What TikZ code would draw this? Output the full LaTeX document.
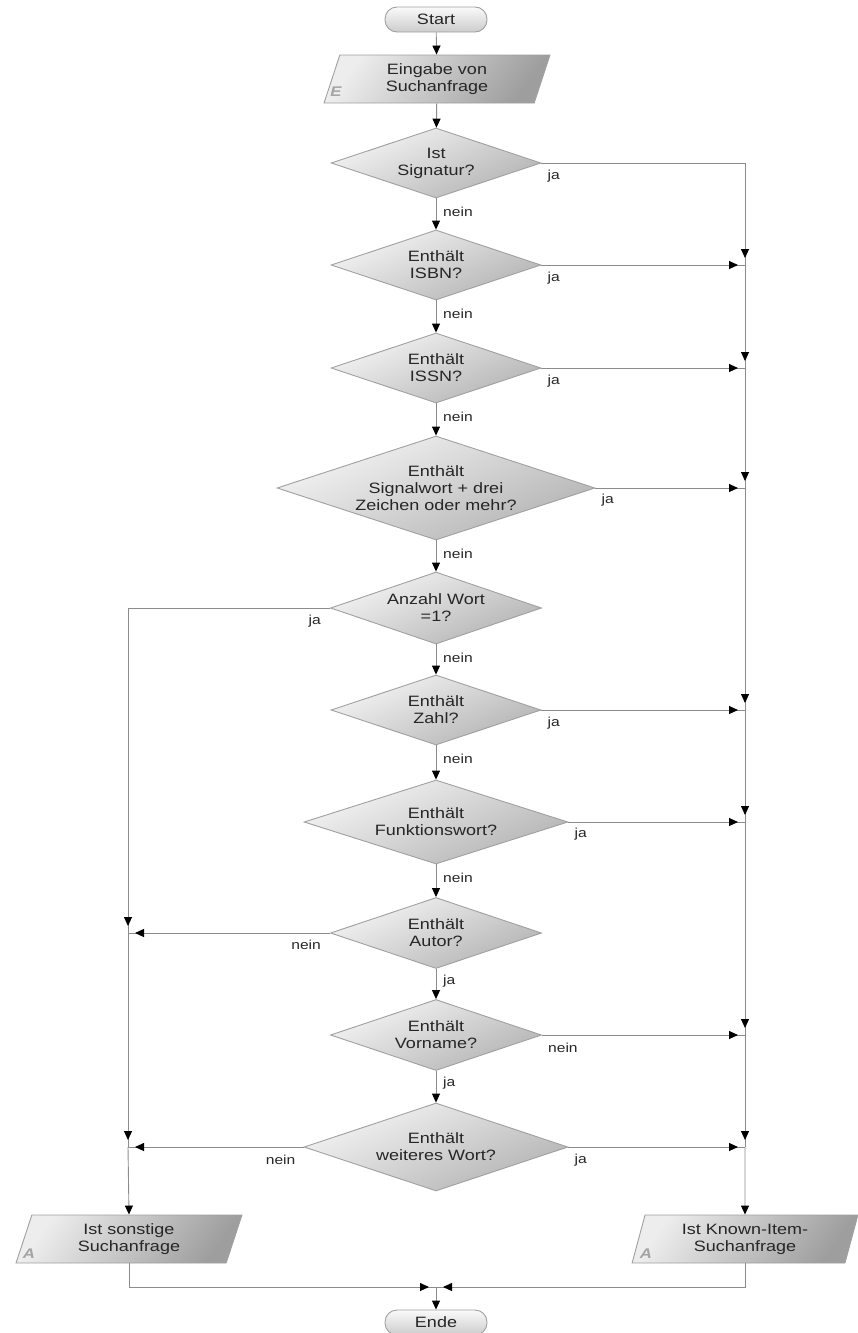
\documentclass[tikz,border=0pt]{standalone}
\usepackage{fontspec}
\setmainfont{Liberation Sans}[FakeStretch=1.2]
\usetikzlibrary{shapes.geometric,arrows.meta,decorations.markings}

\definecolor{edgegray}{HTML}{A0A0A0}
\definecolor{linegray}{HTML}{8C8C8C}
\definecolor{txtgray}{HTML}{262626}
\definecolor{letgray}{HTML}{A4A4A4}

\tikzset{
  shadebox/.style={draw=edgegray, line width=0.9pt, top color=black!4, bottom color=black!30, shading angle=25},
  dia/.style={shadebox, shape=diamond, inner sep=0pt},
  para/.style={shadebox, top color=black!7, bottom color=black!38, shading angle=55, shape=trapezium, trapezium left angle=75, trapezium right angle=105, trapezium stretches=true, minimum width=226pt, minimum height=48pt, inner sep=0pt, align=center, font=\fontsize{15}{17}\selectfont, text=txtgray},
  term/.style={shadebox, top color=black!2, bottom color=black!20, rounded corners=12pt, minimum width=102pt, minimum height=25pt, inner sep=0pt, font=\fontsize{15}{17}\selectfont, text=txtgray},
  txt/.style={font=\fontsize{15}{17}\selectfont, text=txtgray, align=center, inner sep=0pt},
  lab/.style={font=\fontsize{13}{15}\selectfont, text=txtgray, inner sep=0pt},
  letter/.style={font=\fontsize{14}{14}\selectfont\bfseries\itshape, text=letgray, inner sep=0pt},
  flow/.style={draw=linegray, line width=0.9pt},
  arr/.style={flow, -{Triangle[length=9pt,width=8pt,color=black]}},
  tipnear/.style={flow, postaction=decorate, decoration={markings, mark=at position -7pt with {\arrow{Triangle[length=9pt,width=8pt,color=black]}}}}
}

\begin{document}
\begin{tikzpicture}[x=1pt,y=-1pt]
\useasboundingbox (0,0) rectangle (858,1333);

\coordinate (rx) at (745,0);
\coordinate (lx) at (128,0);

% nodes
\node[term] (start) at (436,19.5) {Start};
\node[para] (eing) at (437,79) {Eingabe von\\Suchanfrage};

\node[dia, minimum width=210pt, minimum height=70pt] (d1) at (436,163) {};
\node[txt] (t1) at (d1) {Ist\\Signatur?};
\node[dia, minimum width=210pt, minimum height=70pt] (d2) at (436,265) {};
\node[txt] (t2) at (d2) {Enthält\\ISBN?};
\node[dia, minimum width=210pt, minimum height=70pt] (d3) at (436,368) {};
\node[txt] (t3) at (d3) {Enthält\\ISSN?};
\node[dia, minimum width=318pt, minimum height=104pt] (d4) at (436,488) {};
\node[txt] (t4) at (d4) {Enthält\\Signalwort + drei\\Zeichen oder mehr?};
\node[dia, minimum width=211pt, minimum height=72pt] (d5) at (436,608) {};
\node[txt] (t5) at (d5) {Anzahl Wort\\=1?};
\node[dia, minimum width=210pt, minimum height=70pt] (d6) at (436,710) {};
\node[txt] (t6) at (d6) {Enthält\\Zahl?};
\node[dia, minimum width=264pt, minimum height=84pt] (d7) at (436,822) {};
\node[txt] (t7) at (d7) {Enthält\\Funktionswort?};
\node[dia, minimum width=211pt, minimum height=71pt] (d8) at (436,933) {};
\node[txt] (t8) at (d8) {Enthält\\Autor?};
\node[dia, minimum width=211pt, minimum height=71pt] (d9) at (436,1035) {};
\node[txt] (t9) at (d9) {Enthält\\Vorname?};
\node[dia, minimum width=264pt, minimum height=88pt] (d10) at (436,1147) {};
\node[txt] (t10) at (d10) {Enthält\\weiteres Wort?};

\node[para] (other) at (129,1239) {Ist sonstige\\Suchanfrage};
\node[para] (known) at (745,1239) {Ist Known-Item-\\Suchanfrage};

\node[letter] (eL) at (336,92) {E};
\node[letter] (aL1) at (29,1254) {A};
\node[letter] (aL2) at (646,1254) {A};

\node[term] (ende) at (436,1322.5) {Ende};
\coordinate (join) at (436,1287);

% main chain
\draw[arr] (start) -- (eing);
\draw[arr] (eing) -- (d1);
\draw[arr] (d1) -- (d2);
\draw[arr] (d2) -- (d3);
\draw[arr] (d3) -- (d4);
\draw[arr] (d4) -- (d5);
\draw[arr] (d5) -- (d6);
\draw[arr] (d6) -- (d7);
\draw[arr] (d7) -- (d8);
\draw[arr] (d8) -- (d9);
\draw[arr] (d9) -- (d10);

\node[lab, anchor=west] (n1) at ([shift={(7,13)}]d1.south) {nein};
\node[lab, anchor=west] (n2) at ([shift={(7,13)}]d2.south) {nein};
\node[lab, anchor=west] (n3) at ([shift={(7,13)}]d3.south) {nein};
\node[lab, anchor=west] (n4) at ([shift={(7,13)}]d4.south) {nein};
\node[lab, anchor=west] (n5) at ([shift={(7,13)}]d5.south) {nein};
\node[lab, anchor=west] (n6) at ([shift={(7,13)}]d6.south) {nein};
\node[lab, anchor=west] (n7) at ([shift={(7,13)}]d7.south) {nein};
\node[lab, anchor=west] (j8) at ([shift={(7,12)}]d8.south) {ja};
\node[lab, anchor=west] (j9) at ([shift={(7,12)}]d9.south) {ja};

% right column
\draw[tipnear] (d1.east) -- (d1.east -| rx) -- (d2.east -| rx);
\draw[tipnear] (d2.east) -- (d2.east -| rx);
\draw[tipnear] (d2.east -| rx) -- (d3.east -| rx);
\draw[tipnear] (d3.east) -- (d3.east -| rx);
\draw[tipnear] (d3.east -| rx) -- (d4.east -| rx);
\draw[tipnear] (d4.east) -- (d4.east -| rx);
\draw[tipnear] (d4.east -| rx) -- (d6.east -| rx);
\draw[tipnear] (d6.east) -- (d6.east -| rx);
\draw[tipnear] (d6.east -| rx) -- (d7.east -| rx);
\draw[tipnear] (d7.east) -- (d7.east -| rx);
\draw[tipnear] (d7.east -| rx) -- (d9.east -| rx);
\draw[tipnear] (d9.east) -- (d9.east -| rx);
\draw[tipnear] (d9.east -| rx) -- (d10.east -| rx);
\draw[tipnear] (d10.east) -- (d10.east -| rx);
\draw[arr] (d10.east -| rx) -- (known.north);

\node[lab, anchor=west] (r1) at ([shift={(6,13)}]d1.east) {ja};
\node[lab, anchor=west] (r2) at ([shift={(6,13)}]d2.east) {ja};
\node[lab, anchor=west] (r3) at ([shift={(6,13)}]d3.east) {ja};
\node[lab, anchor=west] (r4) at ([shift={(6,12)}]d4.east) {ja};
\node[lab, anchor=west] (r6) at ([shift={(6,13)}]d6.east) {ja};
\node[lab, anchor=west] (r7) at ([shift={(6,12)}]d7.east) {ja};
\node[lab, anchor=west] (r9) at ([shift={(6,13)}]d9.east) {nein};
\node[lab, anchor=west] (r10) at ([shift={(6,13)}]d10.east) {ja};

% left column
\draw[tipnear] (d5.west) -- (d5.west -| lx) -- (d8.west -| lx);
\draw[tipnear] (d8.west) -- (d8.west -| lx);
\draw[tipnear] (d8.west -| lx) -- (d10.west -| lx);
\draw[tipnear] (d10.west) -- (d10.west -| lx);
\draw[arr] (d10.west -| lx) -- (other.north);

\node[lab, anchor=east] (l5) at ([shift={(-9,13)}]d5.west) {ja};
\node[lab, anchor=east] (l8) at ([shift={(-9,12)}]d8.west) {nein};
\node[lab, anchor=east] (l10) at ([shift={(-8,13)}]d10.west) {nein};

% bottom
\draw[tipnear] (other.south) |- (join);
\draw[tipnear] (known.south) |- (join);
\draw[arr] (join) -- (ende.north);
\end{tikzpicture}
\end{document}
